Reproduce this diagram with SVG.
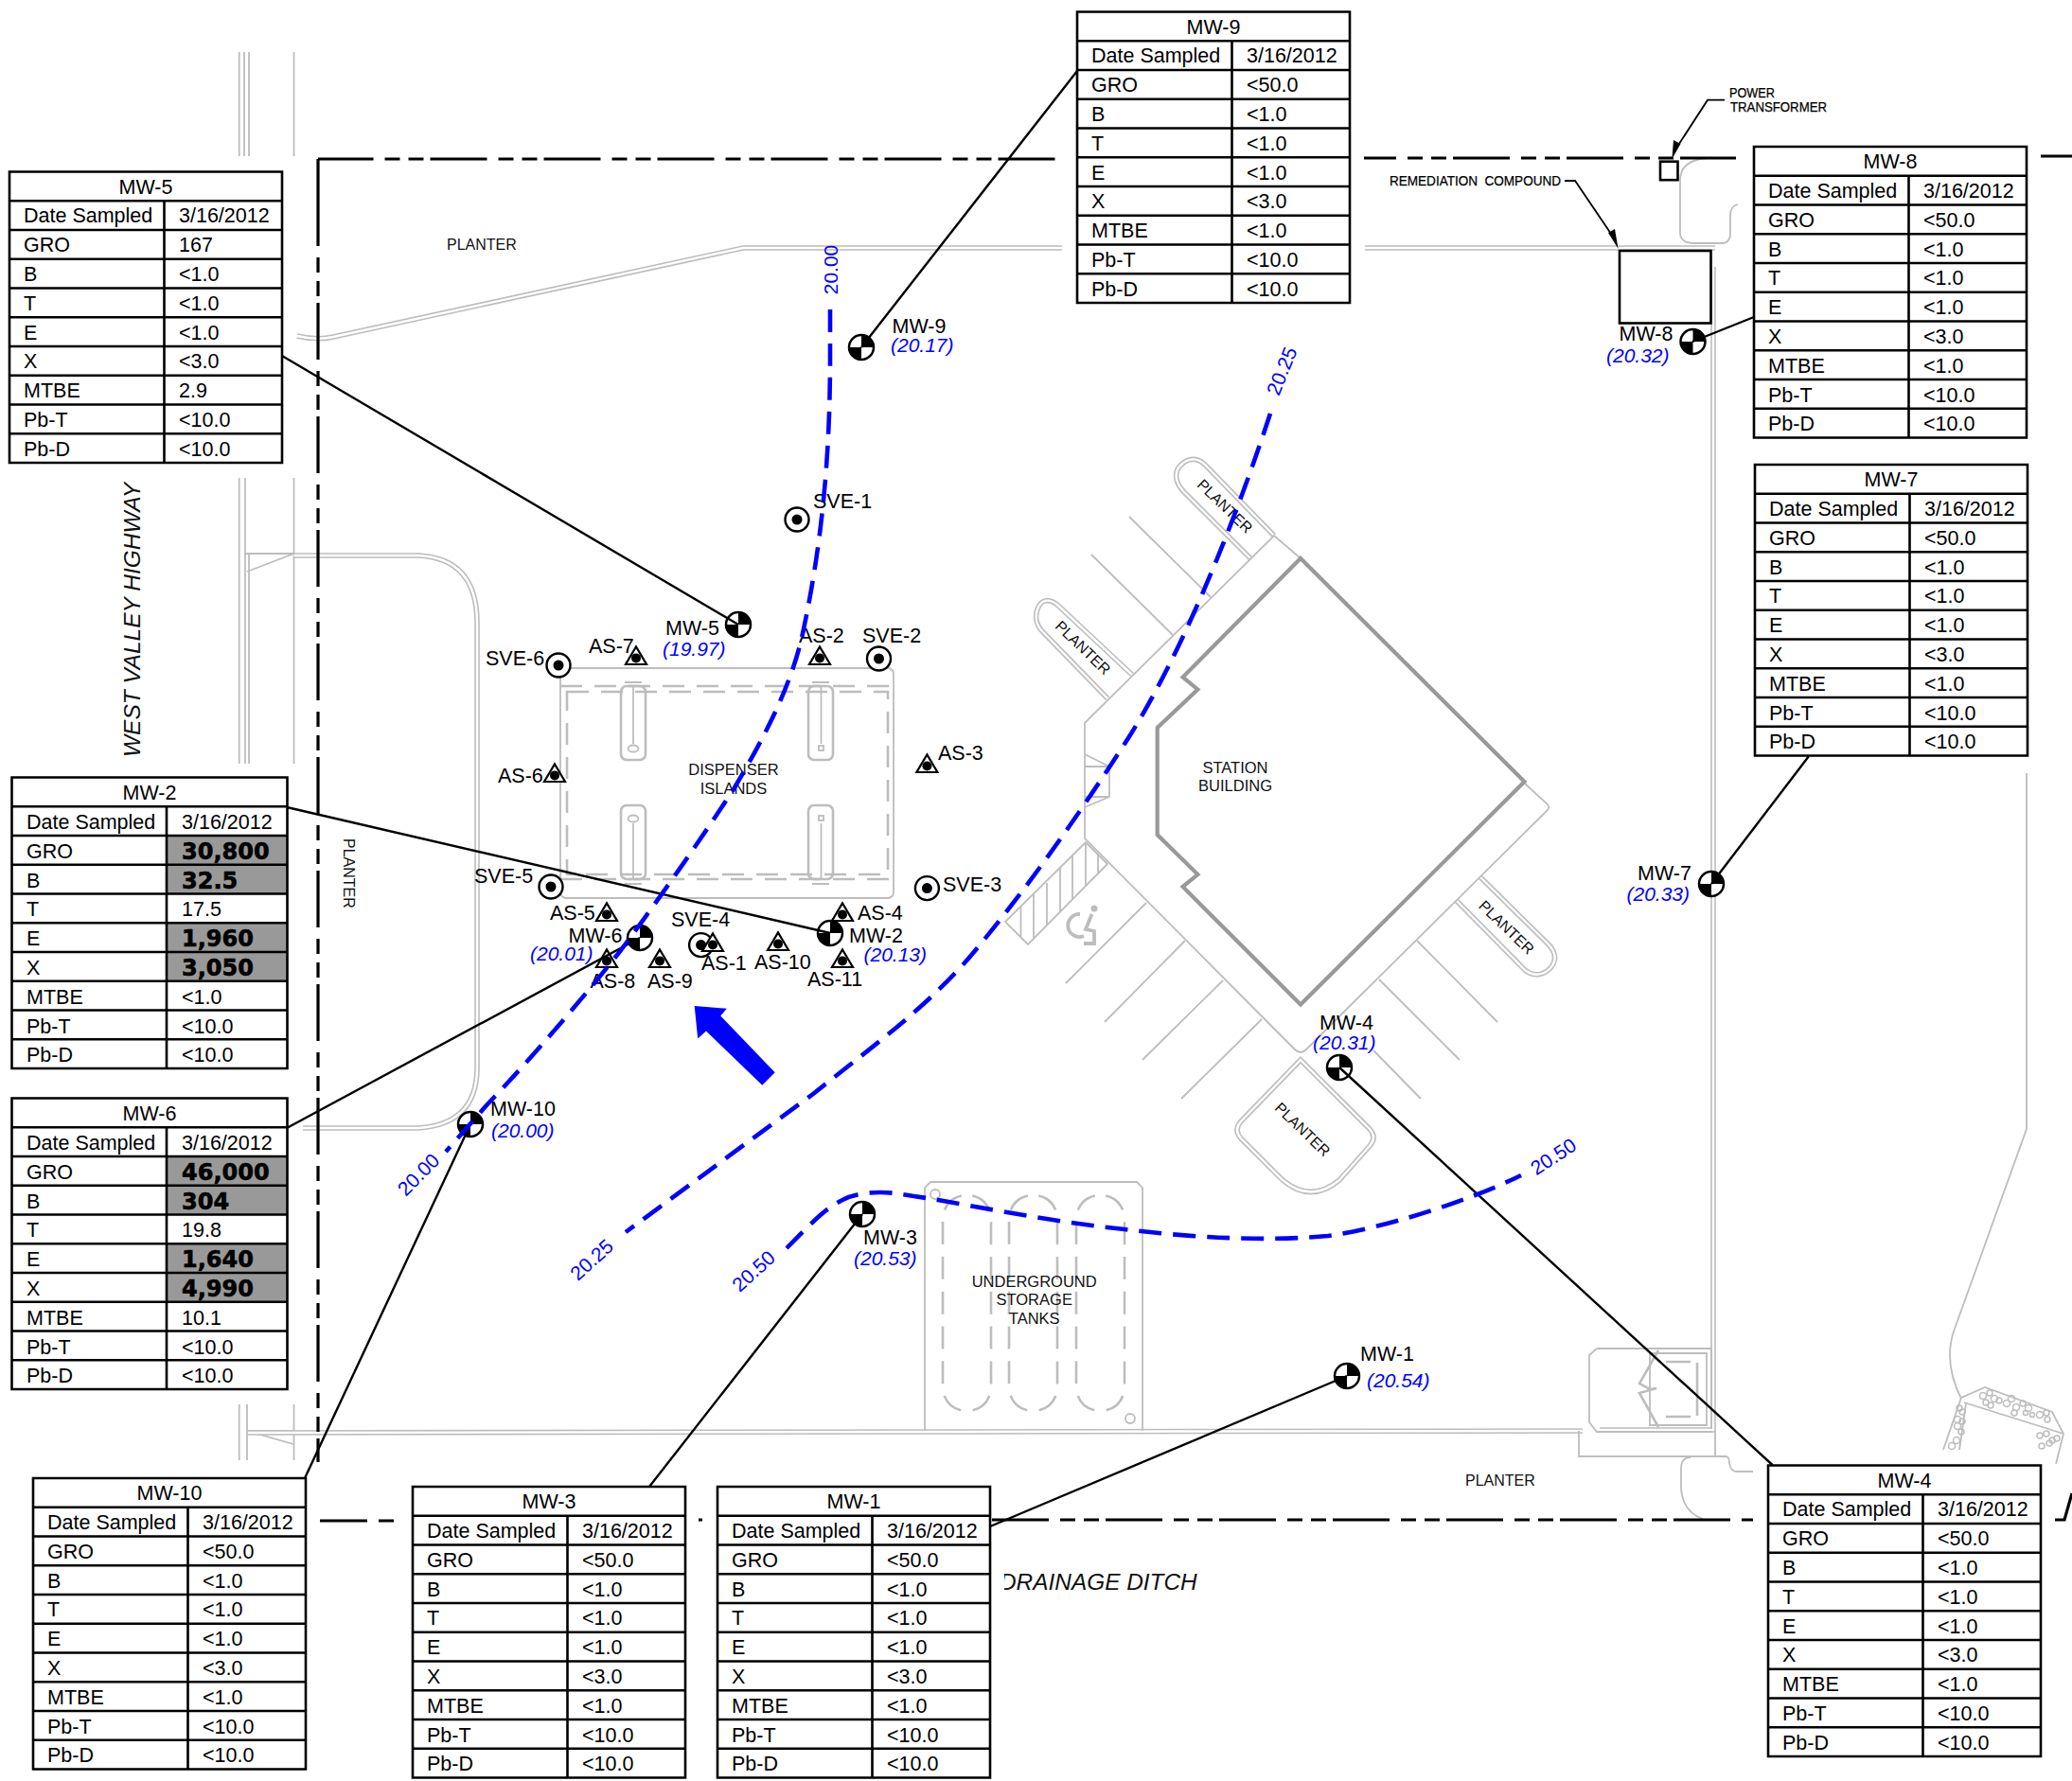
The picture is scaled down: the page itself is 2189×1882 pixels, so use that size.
<svg xmlns="http://www.w3.org/2000/svg" width="2189" height="1882" viewBox="0 0 2189 1882">
<style>
text{font-family:"Liberation Sans",Arial,sans-serif;fill:#000}
.t{font-size:21.5px}
.tm{font-size:21.5px;text-anchor:middle}
.h{font-family:"DejaVu Sans","Liberation Sans",sans-serif;font-weight:bold;font-size:24px;stroke:#000;stroke-width:.6}
.lb{font-size:21.5px}
.wl{font-size:21px;font-style:italic;fill:#00f}
.cl{font-size:21px;fill:#00f;text-anchor:middle}
.s{font-size:16.5px;fill:#111;text-anchor:middle}
.p{font-size:16px;fill:#111}
.pm{font-size:16px;fill:#111;text-anchor:middle}
.n{font-size:14px;stroke:#000;stroke-width:.25}
.g{fill:none;stroke:#bdbdbd;stroke-width:1.8}
.gt{fill:none;stroke:#bdbdbd;stroke-width:2.6}
.gd{fill:none;stroke:#bdbdbd;stroke-width:2.6;stroke-dasharray:23 13}
.tk{fill:none;stroke:#bdbdbd;stroke-width:2.6;stroke-dasharray:24 12.8;stroke-dashoffset:30.4}
.d1{fill:none;stroke:#bdbdbd;stroke-width:5.6}
.d2{fill:none;stroke:#fff;stroke-width:2.4}
.b{fill:none;stroke:#000;stroke-width:3.2;stroke-dasharray:60 12 16 9 16 7}
.bs{fill:none;stroke:#000;stroke-width:3.2}
.c{fill:none;stroke:#00f;stroke-width:4.6;stroke-dasharray:24 12;stroke-linejoin:round}
.k{fill:none;stroke:#000;stroke-width:2.4}
.bg{fill:#fff;stroke:none}
.sh{fill:#999}
.gr{fill:none;stroke:#bdbdbd;stroke-width:1.5}
</style>
<defs>
<g id="frame"><path fill="none" stroke="#000" stroke-width="2.6" d="M0 0H288V307.5H0ZM0 30.75H288M0 61.5H288M0 92.25H288M0 123H288M0 153.75H288M0 184.5H288M0 215.25H288M0 246H288M0 276.75H288M163.5 30.75V307.5"/></g>
<g id="framew"><path fill="none" stroke="#000" stroke-width="2.6" d="M0 0H291V307.5H0ZM0 30.75H291M0 61.5H291M0 92.25H291M0 123H291M0 153.75H291M0 184.5H291M0 215.25H291M0 246H291M0 276.75H291M163.5 30.75V307.5"/></g>
<g id="well"><circle r="13" fill="#fff" stroke="#000" stroke-width="2.5"/><path d="M0 0V-13A13 13 0 0 1 13 0ZM0 0V13A13 13 0 0 1 -13 0Z" fill="#000"/></g>
<g id="sve"><circle r="12.5" fill="#fff" stroke="#000" stroke-width="2.4"/><circle r="5.5" fill="#000"/></g>
<g id="as"><path d="M-11 0H11L0 -18.5Z" fill="#fff" stroke="#000" stroke-width="2.2"/><circle cy="-6.5" r="5" fill="#000"/></g>
<clipPath id="dclip"><rect x="1061" y="1650" width="230" height="45"/></clipPath>
</defs>
<rect width="2189" height="1882" fill="#fff"/>
<g id="site">
<path class="g" d="M252.700 55V165M258 55V165M263 55V165M310.500 55V165M252.700 505V807M259 505V807M263 585V807M310.500 505V807M259 585H310.500M261 604L310.500 585M252.700 1484V1543M261 1484V1543M310.500 1484V1543M261 1512L310 1526M261 1512H310"/>
<path class="d1" d="M314 355Q335 360 352 356L785 262H1122M1442 262H1812M310.500 587H442Q503 590 504 656V1130Q503 1188 442 1192H320M262 1514L1672 1512"/><path class="d2" d="M314 355Q335 360 352 356L785 262H1122M1442 262H1812M310.500 587H442Q503 590 504 656V1130Q503 1188 442 1192H320M262 1514L1672 1512"/>
<path class="d1" d="M1810 282V1511H1690"/><path class="d2" d="M1810 282V1511H1690"/>
<path class="d1" d="M1321 590L1250 519C1240 508 1241 497 1248 491C1255 484 1265 483 1273 491L1346 566M1196 713L1118 640C1108 631 1099 634 1096 644C1093 652 1095 661 1102 668L1170 738M1564 927L1635 997C1645 1007 1644 1016 1638 1023C1630 1031 1620 1032 1611 1025L1539 952M1374 1120L1447 1193Q1455 1202 1447 1211L1415 1247Q1385 1272 1355 1247L1311 1203Q1303 1194 1311 1185Z"/>
<path class="d2" d="M1321 590L1250 519C1240 508 1241 497 1248 491C1255 484 1265 483 1273 491L1346 566M1196 713L1118 640C1108 631 1099 634 1096 644C1093 652 1095 661 1102 668L1170 738M1564 927L1635 997C1645 1007 1644 1016 1638 1023C1630 1031 1620 1032 1611 1025L1539 952M1374 1120L1447 1193Q1455 1202 1447 1211L1415 1247Q1385 1272 1355 1247L1311 1203Q1303 1194 1311 1185Z"/>
<path class="g" d="M1374 590L1346 566L1146 764V886L1368 1109Q1374 1115 1380 1109L1421 1068M1421 1068L1635 856Q1637 853 1635 850L1611 828"/>
<path class="g" d="M1193 546L1279 631M1153 586L1239 671M1497 994L1582 1080M1457 1035L1542 1120M1451 1110L1501 1161M1211 954L1126 1039M1252 994L1167 1080M1292 1036L1207 1120M1333 1077L1248 1161"/>
<path class="g" d="M1147 890L1170 913L1086 998L1062 974ZM1078.500 957V991M1092 944V991M1106 933V978M1120 917V964M1133 903V951M1147 890V937M1160 903V924"/>
<path class="g" d="M1146 797L1172 810V842L1146 853M1146 810H1172M1146 842H1172"/>
<g fill="none" stroke="#bdbdbd" stroke-width="3.8"><path d="M1141 966A12 12 0 1 0 1145 989"/><path d="M1153.500 966L1147 982L1156 984V997H1145"/></g><circle cx="1156" cy="960" r="3.500" fill="#bdbdbd"/>
<rect class="g" x="592" y="706" width="352" height="243" rx="6"/>
<path class="gd" d="M592 725H944M592 929H944"/>
<rect class="gd" x="599" y="731" width="339" height="193"/>
<g class="gt"><rect x="656" y="725" width="26" height="78" rx="6"/><rect x="854" y="725" width="26" height="78" rx="6"/><rect x="656" y="851" width="26" height="78" rx="6"/><rect x="854" y="851" width="26" height="78" rx="6"/></g>
<path class="g" d="M669 725V786M867.500 725V786M669 870V930M867.500 870V930M660 721H678M858 721H876M660 934H678M858 934H876"/>
<ellipse class="g" cx="669" cy="791" rx="5.500" ry="3.500"/><ellipse class="g" cx="669" cy="865" rx="5.500" ry="3.500"/><rect class="g" x="865" y="788" width="5" height="5"/><rect class="g" x="865" y="862" width="5" height="5"/>
<path class="g" d="M983 1249H1201L1207 1255V1512M977 1512V1255L983 1249"/>
<circle class="g" cx="988" cy="1262" r="5"/><circle class="g" cx="1194" cy="1499" r="5"/>
<rect class="tk" x="996" y="1263" width="51" height="228" rx="25"/><rect class="tk" x="1066" y="1263" width="51" height="228" rx="25"/><rect class="tk" x="1137" y="1263" width="51" height="228" rx="25"/>
<path class="g" d="M1687 1425H1808V1510M1687 1425L1679 1432V1503L1687 1513H1808M1743 1430H1803V1506H1743Z"/>
<path class="gt" d="M1760 1439H1786M1793 1440V1496M1760 1497H1786M1752 1427L1732 1462L1743 1468L1750 1467L1732 1472L1752 1508"/>
<path class="g" d="M1668 1512V1539H1812V1512M1812 1539H1824Q1827 1540 1827 1546Q1828 1555 1835 1555H1852M1786 1540Q1776 1540 1776 1552V1573Q1778 1598 1799 1605"/>
<path class="g" d="M1803 167Q1775 170 1775 190V247Q1776 257 1790 257H1820Q1828 256 1828 247V227Q1828 218 1836 216"/>
<path class="g" d="M2141 817V1193L2064 1407Q2053 1440 2072 1478"/>
<path class="g" d="M2053 1532L2072 1477L2097 1466L2168 1492L2180 1515L2172 1547M2070 1532L2077 1483M2075 1482L2180 1515"/>
<g class="gr"><circle cx="2095" cy="1475" r="3.500"/><circle cx="2102" cy="1472" r="3"/><circle cx="2098" cy="1482" r="3"/><circle cx="2107" cy="1478" r="3.500"/><circle cx="2103" cy="1485" r="3"/><circle cx="2112" cy="1480" r="3"/><circle cx="2120" cy="1483" r="3.500"/><circle cx="2125" cy="1478" r="3.500"/><circle cx="2130" cy="1487" r="3.500"/><circle cx="2128" cy="1493" r="3"/><circle cx="2137" cy="1483" r="3"/><circle cx="2143" cy="1488" r="3.500"/><circle cx="2140" cy="1493" r="2.500"/><circle cx="2147" cy="1495" r="2.500"/><circle cx="2155" cy="1495" r="3.500"/><circle cx="2162" cy="1493" r="3"/><circle cx="2163" cy="1500" r="3"/><circle cx="2070" cy="1488" r="3"/><circle cx="2073" cy="1492" r="3"/><circle cx="2068" cy="1500" r="3.500"/><circle cx="2073" cy="1502" r="3"/><circle cx="2068" cy="1507" r="3.500"/><circle cx="2072" cy="1513" r="3"/><circle cx="2067" cy="1522" r="3.500"/><circle cx="2062" cy="1528" r="3.500"/><circle cx="2155" cy="1517" r="3"/><circle cx="2162" cy="1515" r="3"/><circle cx="2168" cy="1522" r="3"/><circle cx="2157" cy="1528" r="3"/><circle cx="2165" cy="1525" r="3"/><circle cx="2173" cy="1520" r="3"/></g>
<path d="M1374 590L1610.500 826L1374 1061.500L1249.600 937L1265.400 924L1222.700 882V769L1265.400 728.500L1249.600 715.500Z" fill="none" stroke="#999" stroke-width="4.200"/>
<path class="b" stroke-dashoffset="1.5" d="M336 168H1115"/>
<path class="b" stroke-dashoffset="26" d="M1441 167H1834"/>
<path class="bs" d="M2156 165H2189M336 168V260M336 272V288M336 297V313M2171 1606H2181L2189 1578M738 1606H742"/>
<path class="b" d="M336 320V1545"/>
<path class="b" stroke-dashoffset="10" d="M338 1607H416"/>
<path class="b" d="M1048 1606H1852"/>
<rect x="1711" y="265" width="96.500" height="76.500" fill="none" stroke="#000" stroke-width="2.600"/>
<rect x="1754" y="170.700" width="18.500" height="19.500" fill="none" stroke="#000" stroke-width="2.600"/>
<path fill="none" stroke="#000" stroke-width="1.800" d="M1653 191H1664L1704 250M1822 105.700H1804L1772 155"/>
<path d="M1709.500 262.700L1699 246L1706 242ZM1766.400 168L1768 148L1775.500 152Z" fill="#000"/>
<text class="n" x="1827" y="102.700" textLength="48" lengthAdjust="spacingAndGlyphs">POWER</text>
<text class="n" x="1828" y="118" textLength="102" lengthAdjust="spacingAndGlyphs">TRANSFORMER</text>
<text class="n" x="1468" y="196" textLength="181" lengthAdjust="spacingAndGlyphs" xml:space="preserve">REMEDIATION  COMPOUND</text>
<text class="p" x="472" y="264">PLANTER</text>
<text class="p" transform="translate(363 886) rotate(90)">PLANTER</text>
<text class="p" x="1548" y="1570">PLANTER</text>
<text class="pm" transform="translate(1294 535) rotate(44)" y="5.500">PLANTER</text>
<text class="pm" transform="translate(1144 684.500) rotate(44)" y="5.500">PLANTER</text>
<text class="pm" transform="translate(1591.500 980) rotate(44)" y="5.500">PLANTER</text>
<text class="pm" transform="translate(1376 1193.500) rotate(44)" y="5.500">PLANTER</text>
<text class="s" x="775" y="819">DISPENSER</text><text class="s" x="775" y="839">ISLANDS</text>
<text class="s" x="1305" y="816.500">STATION</text><text class="s" x="1305" y="836">BUILDING</text>
<text class="s" x="1092.700" y="1360">UNDERGROUND</text><text class="s" x="1092.700" y="1379">STORAGE</text><text class="s" x="1092.700" y="1399">TANKS</text>
<text transform="translate(148 800) rotate(-90)" font-size="24.500" font-style="italic" style="fill:#111">WEST VALLEY HIGHWAY</text>
<text x="1056" y="1680" font-size="24.400" font-style="italic" clip-path="url(#dclip)" style="fill:#111">DRAINAGE DITCH</text>
</g>
<g id="nodes">
<g id="sve-1"><use href="#sve" x="842" y="549"/><text class="lb" x="859" y="537">SVE-1</text></g>
<g id="sve-2"><use href="#sve" x="928.500" y="696"/><text class="lb" x="911" y="679">SVE-2</text></g>
<g id="sve-3"><use href="#sve" x="979.400" y="938.600"/><text class="lb" x="996" y="942">SVE-3</text></g>
<g id="sve-4"><use href="#sve" x="740.600" y="998.600"/><text class="lb" x="709" y="979">SVE-4</text></g>
<g id="sve-5"><use href="#sve" x="582" y="937"/><text class="lb" x="501" y="933">SVE-5</text></g>
<g id="sve-6"><use href="#sve" x="590" y="703"/><text class="lb" x="513" y="703">SVE-6</text></g>
<g id="as-1"><use href="#as" x="753" y="1005"/><text class="lb" x="741" y="1025">AS-1</text></g>
<g id="as-2"><use href="#as" x="866" y="702"/><text class="lb" x="844" y="679">AS-2</text></g>
<g id="as-3"><use href="#as" x="979.400" y="816"/><text class="lb" x="991" y="803">AS-3</text></g>
<g id="as-4"><use href="#as" x="890" y="973"/><text class="lb" x="906" y="972">AS-4</text></g>
<g id="as-5"><use href="#as" x="641" y="973"/><text class="lb" x="581" y="972">AS-5</text></g>
<g id="as-6"><use href="#as" x="586" y="826"/><text class="lb" x="526" y="827">AS-6</text></g>
<g id="as-7"><use href="#as" x="672" y="702"/><text class="lb" x="622" y="690">AS-7</text></g>
<g id="as-8"><use href="#as" x="641" y="1022"/><text class="lb" x="623.500" y="1043.500">AS-8</text></g>
<g id="as-9"><use href="#as" x="697" y="1022"/><text class="lb" x="684" y="1043.500">AS-9</text></g>
<g id="as-10"><use href="#as" x="822" y="1004"/><text class="lb" x="797" y="1023.500">AS-10</text></g>
<g id="as-11"><use href="#as" x="890" y="1022"/><text class="lb" x="853" y="1042">AS-11</text></g>
<g id="mw-1"><use href="#well" x="1423" y="1454"/><text class="lb" x="1437" y="1438">MW-1</text><text class="wl" x="1444" y="1466">(20.54)</text></g>
<g id="mw-2"><use href="#well" x="877" y="986"/><text class="lb" x="897" y="996">MW-2</text><text class="wl" x="912.500" y="1016">(20.13)</text></g>
<g id="mw-3"><use href="#well" x="911" y="1283"/><text class="lb" x="912" y="1315">MW-3</text><text class="wl" x="902" y="1337">(20.53)</text></g>
<g id="mw-4"><use href="#well" x="1415" y="1128"/><text class="lb" x="1394" y="1088">MW-4</text><text class="wl" x="1387" y="1108.600">(20.31)</text></g>
<g id="mw-5"><use href="#well" x="780" y="660"/><text class="lb" x="703" y="671">MW-5</text><text class="wl" x="700" y="693">(19.97)</text></g>
<g id="mw-6"><use href="#well" x="676" y="991"/><text class="lb" x="600.500" y="996">MW-6</text><text class="wl" x="560" y="1015">(20.01)</text></g>
<g id="mw-7"><use href="#well" x="1808" y="934"/><text class="lb" x="1730" y="930">MW-7</text><text class="wl" x="1718.500" y="952">(20.33)</text></g>
<g id="mw-8"><use href="#well" x="1788.500" y="361"/><text class="lb" x="1710.500" y="360">MW-8</text><text class="wl" x="1697" y="383">(20.32)</text></g>
<g id="mw-9"><use href="#well" x="910" y="367"/><text class="lb" x="942.500" y="352">MW-9</text><text class="wl" x="941" y="372">(20.17)</text></g>
<g id="mw-10"><use href="#well" x="497" y="1188"/><text class="lb" x="518" y="1178.500">MW-10</text><text class="wl" x="519" y="1201.500">(20.00)</text></g>
</g>
<g id="connectors">
<path class="k" d="M298 376L780 660M1138 75L910 367M1853 335L1788 361M1911 799L1808 934M303 853L877 986M303 1192L676 991M322 1562L497 1188M686 1571L911 1283M1046 1613L1423 1454M1415 1128L1872.500 1548"/>
</g>
<g id="contours">
<path class="c" d="M877 327V377C877 460 872 560 847 674C835 725 810 775 775 834C745 880 700 945 656 1004C620 1050 560 1120 514 1168L471 1217"/>
<path class="c" d="M1342 437C1310 535 1255 680 1192 780C1145 853 1085 940 1023 1013C975 1068 915 1111 859 1156L661 1302"/>
<path class="c" d="M831 1319C855 1295 870 1278 890 1268C905 1260 930 1258 953 1262C1010 1270 1100 1290 1188 1299C1260 1308 1340 1312 1403 1306C1460 1298 1550 1270 1607 1242"/>
<path d="M733.700 1062.900L767.800 1065.700L761.300 1073.600L818.700 1133.200L805.300 1146.800L746 1089.600L737.200 1097.500Z" fill="#00f"/>
<text class="cl" transform="translate(877 285) rotate(-90)" y="7.500">20.00</text>
<text class="cl" transform="translate(442 1241) rotate(-45)" y="7.500">20.00</text>
<text class="cl" transform="translate(625 1331) rotate(-42)" y="7.500">20.25</text>
<text class="cl" transform="translate(1354 392) rotate(-68)" y="7.500">20.25</text>
<text class="cl" transform="translate(796 1343) rotate(-42)" y="7.500">20.50</text>
<text class="cl" transform="translate(1641 1222) rotate(-33)" y="7.500">20.50</text>
</g>
<g id="table-mw-5" transform="translate(10 181.500)"><rect class="bg" width="288" height="307.500"/><use href="#frame"/><g transform="translate(0 -1.500)"><text class="tm" x="144" y="24.600">MW-5</text><text class="t" x="15" y="55.400">Date Sampled</text><text class="t" x="179" y="55.400">3/16/2012</text><text class="t" x="15" y="86.200">GRO</text><text class="t" x="179" y="86.200">167</text><text class="t" x="15" y="117">B</text><text class="t" x="179" y="117">&lt;1.0</text><text class="t" x="15" y="147.800">T</text><text class="t" x="179" y="147.800">&lt;1.0</text><text class="t" x="15" y="178.600">E</text><text class="t" x="179" y="178.600">&lt;1.0</text><text class="t" x="15" y="209.400">X</text><text class="t" x="179" y="209.400">&lt;3.0</text><text class="t" x="15" y="240.200">MTBE</text><text class="t" x="179" y="240.200">2.9</text><text class="t" x="15" y="271">Pb-T</text><text class="t" x="179" y="271">&lt;10.0</text><text class="t" x="15" y="301.800">Pb-D</text><text class="t" x="179" y="301.800">&lt;10.0</text></g></g>
<g id="table-mw-9" transform="translate(1138 12.500)"><rect class="bg" width="288" height="307.500"/><use href="#frame"/><g transform="translate(0 -1.500)"><text class="tm" x="144" y="24.600">MW-9</text><text class="t" x="15" y="55.400">Date Sampled</text><text class="t" x="179" y="55.400">3/16/2012</text><text class="t" x="15" y="86.200">GRO</text><text class="t" x="179" y="86.200">&lt;50.0</text><text class="t" x="15" y="117">B</text><text class="t" x="179" y="117">&lt;1.0</text><text class="t" x="15" y="147.800">T</text><text class="t" x="179" y="147.800">&lt;1.0</text><text class="t" x="15" y="178.600">E</text><text class="t" x="179" y="178.600">&lt;1.0</text><text class="t" x="15" y="209.400">X</text><text class="t" x="179" y="209.400">&lt;3.0</text><text class="t" x="15" y="240.200">MTBE</text><text class="t" x="179" y="240.200">&lt;1.0</text><text class="t" x="15" y="271">Pb-T</text><text class="t" x="179" y="271">&lt;10.0</text><text class="t" x="15" y="301.800">Pb-D</text><text class="t" x="179" y="301.800">&lt;10.0</text></g></g>
<g id="table-mw-8" transform="translate(1853 155)"><rect class="bg" width="288" height="307.500"/><use href="#frame"/><g transform="translate(0 -1.500)"><text class="tm" x="144" y="24.600">MW-8</text><text class="t" x="15" y="55.400">Date Sampled</text><text class="t" x="179" y="55.400">3/16/2012</text><text class="t" x="15" y="86.200">GRO</text><text class="t" x="179" y="86.200">&lt;50.0</text><text class="t" x="15" y="117">B</text><text class="t" x="179" y="117">&lt;1.0</text><text class="t" x="15" y="147.800">T</text><text class="t" x="179" y="147.800">&lt;1.0</text><text class="t" x="15" y="178.600">E</text><text class="t" x="179" y="178.600">&lt;1.0</text><text class="t" x="15" y="209.400">X</text><text class="t" x="179" y="209.400">&lt;3.0</text><text class="t" x="15" y="240.200">MTBE</text><text class="t" x="179" y="240.200">&lt;1.0</text><text class="t" x="15" y="271">Pb-T</text><text class="t" x="179" y="271">&lt;10.0</text><text class="t" x="15" y="301.800">Pb-D</text><text class="t" x="179" y="301.800">&lt;10.0</text></g></g>
<g id="table-mw-7" transform="translate(1854 491)"><rect class="bg" width="288" height="307.500"/><use href="#frame"/><g transform="translate(0 -1.500)"><text class="tm" x="144" y="24.600">MW-7</text><text class="t" x="15" y="55.400">Date Sampled</text><text class="t" x="179" y="55.400">3/16/2012</text><text class="t" x="15" y="86.200">GRO</text><text class="t" x="179" y="86.200">&lt;50.0</text><text class="t" x="15" y="117">B</text><text class="t" x="179" y="117">&lt;1.0</text><text class="t" x="15" y="147.800">T</text><text class="t" x="179" y="147.800">&lt;1.0</text><text class="t" x="15" y="178.600">E</text><text class="t" x="179" y="178.600">&lt;1.0</text><text class="t" x="15" y="209.400">X</text><text class="t" x="179" y="209.400">&lt;3.0</text><text class="t" x="15" y="240.200">MTBE</text><text class="t" x="179" y="240.200">&lt;1.0</text><text class="t" x="15" y="271">Pb-T</text><text class="t" x="179" y="271">&lt;10.0</text><text class="t" x="15" y="301.800">Pb-D</text><text class="t" x="179" y="301.800">&lt;10.0</text></g></g>
<g id="table-mw-2" transform="translate(12.500 821.500)"><rect class="bg" width="291" height="307.500"/><rect class="sh" x="163.500" y="61.500" width="127.500" height="61.500"/><rect class="sh" x="163.500" y="153.750" width="127.500" height="61.500"/><use href="#framew"/><g transform="translate(0 -.8)"><text class="tm" x="145.500" y="24.600">MW-2</text><text class="t" x="15.500" y="55.400">Date Sampled</text><text class="t" x="179.500" y="55.400">3/16/2012</text><text class="t" x="15.500" y="86.200">GRO</text><text class="h" x="179.500" y="87">30,800</text><text class="t" x="15.500" y="117">B</text><text class="h" x="179.500" y="118">32.5</text><text class="t" x="15.500" y="147.800">T</text><text class="t" x="179.500" y="147.800">17.5</text><text class="t" x="15.500" y="178.600">E</text><text class="h" x="179.500" y="179.500">1,960</text><text class="t" x="15.500" y="209.400">X</text><text class="h" x="179.500" y="210.500">3,050</text><text class="t" x="15.500" y="240.200">MTBE</text><text class="t" x="179.500" y="240.200">&lt;1.0</text><text class="t" x="15.500" y="271">Pb-T</text><text class="t" x="179.500" y="271">&lt;10.0</text><text class="t" x="15.500" y="301.800">Pb-D</text><text class="t" x="179.500" y="301.800">&lt;10.0</text></g></g>
<g id="table-mw-6" transform="translate(12.500 1160.500)"><rect class="bg" width="291" height="307.500"/><rect class="sh" x="163.500" y="61.500" width="127.500" height="61.500"/><rect class="sh" x="163.500" y="153.750" width="127.500" height="61.500"/><use href="#framew"/><g transform="translate(0 -.8)"><text class="tm" x="145.500" y="24.600">MW-6</text><text class="t" x="15.500" y="55.400">Date Sampled</text><text class="t" x="179.500" y="55.400">3/16/2012</text><text class="t" x="15.500" y="86.200">GRO</text><text class="h" x="179.500" y="87">46,000</text><text class="t" x="15.500" y="117">B</text><text class="h" x="179.500" y="118">304</text><text class="t" x="15.500" y="147.800">T</text><text class="t" x="179.500" y="147.800">19.8</text><text class="t" x="15.500" y="178.600">E</text><text class="h" x="179.500" y="179.500">1,640</text><text class="t" x="15.500" y="209.400">X</text><text class="h" x="179.500" y="210.500">4,990</text><text class="t" x="15.500" y="240.200">MTBE</text><text class="t" x="179.500" y="240.200">10.1</text><text class="t" x="15.500" y="271">Pb-T</text><text class="t" x="179.500" y="271">&lt;10.0</text><text class="t" x="15.500" y="301.800">Pb-D</text><text class="t" x="179.500" y="301.800">&lt;10.0</text></g></g>
<g id="table-mw-10" transform="translate(35 1562)"><rect class="bg" width="288" height="307.500"/><use href="#frame"/><g transform="translate(0 -1.500)"><text class="tm" x="144" y="24.600">MW-10</text><text class="t" x="15" y="55.400">Date Sampled</text><text class="t" x="179" y="55.400">3/16/2012</text><text class="t" x="15" y="86.200">GRO</text><text class="t" x="179" y="86.200">&lt;50.0</text><text class="t" x="15" y="117">B</text><text class="t" x="179" y="117">&lt;1.0</text><text class="t" x="15" y="147.800">T</text><text class="t" x="179" y="147.800">&lt;1.0</text><text class="t" x="15" y="178.600">E</text><text class="t" x="179" y="178.600">&lt;1.0</text><text class="t" x="15" y="209.400">X</text><text class="t" x="179" y="209.400">&lt;3.0</text><text class="t" x="15" y="240.200">MTBE</text><text class="t" x="179" y="240.200">&lt;1.0</text><text class="t" x="15" y="271">Pb-T</text><text class="t" x="179" y="271">&lt;10.0</text><text class="t" x="15" y="301.800">Pb-D</text><text class="t" x="179" y="301.800">&lt;10.0</text></g></g>
<g id="table-mw-3" transform="translate(436 1571)"><rect class="bg" width="288" height="307.500"/><use href="#frame"/><g transform="translate(0 -1.500)"><text class="tm" x="144" y="24.600">MW-3</text><text class="t" x="15" y="55.400">Date Sampled</text><text class="t" x="179" y="55.400">3/16/2012</text><text class="t" x="15" y="86.200">GRO</text><text class="t" x="179" y="86.200">&lt;50.0</text><text class="t" x="15" y="117">B</text><text class="t" x="179" y="117">&lt;1.0</text><text class="t" x="15" y="147.800">T</text><text class="t" x="179" y="147.800">&lt;1.0</text><text class="t" x="15" y="178.600">E</text><text class="t" x="179" y="178.600">&lt;1.0</text><text class="t" x="15" y="209.400">X</text><text class="t" x="179" y="209.400">&lt;3.0</text><text class="t" x="15" y="240.200">MTBE</text><text class="t" x="179" y="240.200">&lt;1.0</text><text class="t" x="15" y="271">Pb-T</text><text class="t" x="179" y="271">&lt;10.0</text><text class="t" x="15" y="301.800">Pb-D</text><text class="t" x="179" y="301.800">&lt;10.0</text></g></g>
<g id="table-mw-1" transform="translate(758 1571)"><rect class="bg" width="288" height="307.500"/><use href="#frame"/><g transform="translate(0 -1.500)"><text class="tm" x="144" y="24.600">MW-1</text><text class="t" x="15" y="55.400">Date Sampled</text><text class="t" x="179" y="55.400">3/16/2012</text><text class="t" x="15" y="86.200">GRO</text><text class="t" x="179" y="86.200">&lt;50.0</text><text class="t" x="15" y="117">B</text><text class="t" x="179" y="117">&lt;1.0</text><text class="t" x="15" y="147.800">T</text><text class="t" x="179" y="147.800">&lt;1.0</text><text class="t" x="15" y="178.600">E</text><text class="t" x="179" y="178.600">&lt;1.0</text><text class="t" x="15" y="209.400">X</text><text class="t" x="179" y="209.400">&lt;3.0</text><text class="t" x="15" y="240.200">MTBE</text><text class="t" x="179" y="240.200">&lt;1.0</text><text class="t" x="15" y="271">Pb-T</text><text class="t" x="179" y="271">&lt;10.0</text><text class="t" x="15" y="301.800">Pb-D</text><text class="t" x="179" y="301.800">&lt;10.0</text></g></g>
<g id="table-mw-4" transform="translate(1868 1548.500)"><rect class="bg" width="288" height="307.500"/><use href="#frame"/><g transform="translate(0 -1.500)"><text class="tm" x="144" y="24.600">MW-4</text><text class="t" x="15" y="55.400">Date Sampled</text><text class="t" x="179" y="55.400">3/16/2012</text><text class="t" x="15" y="86.200">GRO</text><text class="t" x="179" y="86.200">&lt;50.0</text><text class="t" x="15" y="117">B</text><text class="t" x="179" y="117">&lt;1.0</text><text class="t" x="15" y="147.800">T</text><text class="t" x="179" y="147.800">&lt;1.0</text><text class="t" x="15" y="178.600">E</text><text class="t" x="179" y="178.600">&lt;1.0</text><text class="t" x="15" y="209.400">X</text><text class="t" x="179" y="209.400">&lt;3.0</text><text class="t" x="15" y="240.200">MTBE</text><text class="t" x="179" y="240.200">&lt;1.0</text><text class="t" x="15" y="271">Pb-T</text><text class="t" x="179" y="271">&lt;10.0</text><text class="t" x="15" y="301.800">Pb-D</text><text class="t" x="179" y="301.800">&lt;10.0</text></g></g>
</svg>
